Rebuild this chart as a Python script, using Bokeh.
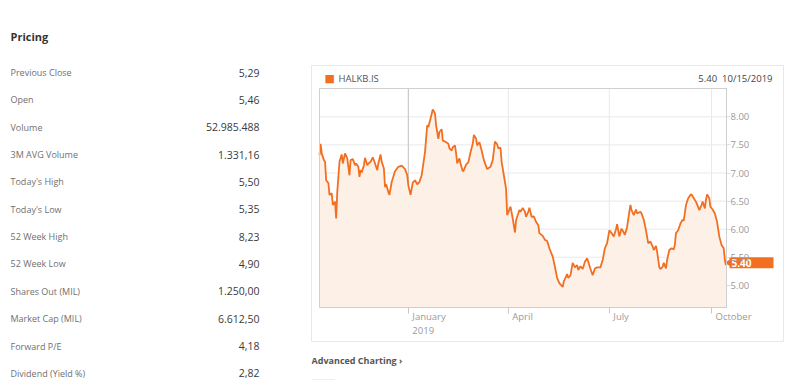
import pandas as pd
from bokeh.plotting import figure
from bokeh.models import ColumnDataSource, FixedTicker, NumeralTickFormatter
from bokeh.layouts import row, column
from bokeh.embed import file_html
from bokeh.resources import INLINE
from bokeh.core.properties import value

# ---------------- data ----------------
section_title = "Pricing"
pricing_labels = ["Previous Close", "Open", "Volume", "3M AVG Volume", "Today's High",
                  "Today's Low", "52 Week High", "52 Week Low", "Shares Out (MIL)",
                  "Market Cap (MIL)", "Forward P/E", "Dividend (Yield %)"]
pricing_values = ["5,29", "5,46", "52.985.488", "1.331,16", "5,50", "5,35", "8,23",
                  "4,90", "1.250,00", "6.612,50", "4,18", "2,82"]
ticker_symbol = "HALKB.IS"
last_price = 5.40
last_date = "10/15/2019"
footer_link = "Advanced Charting \u203a"
start_date = "2018-10-13"
end_date = "2019-10-14 12:00"
day_offsets = [0, 1, 2, 4, 5, 6, 8, 9, 11, 12, 14, 15, 16, 18, 20, 21, 23, 25, 27, 28,
               30, 32, 33, 35, 36, 37, 38, 40, 41, 43, 44, 46, 48, 50, 52, 53, 55, 56, 58, 59,
               60, 62, 63, 65, 68, 71, 74, 77, 79, 80, 82, 84, 86, 88, 90, 92, 95, 97, 98, 100,
               102, 104, 105, 107, 108, 110, 111, 114, 116, 117, 119, 120, 122, 123, 124, 126,
               127, 129, 130, 132, 134, 136, 138, 139, 141, 142, 144, 146, 148, 151, 154, 156,
               158, 160, 161, 163, 164, 166, 168, 169, 172, 174, 176, 177, 180, 181, 183, 185,
               186, 188, 189, 191, 193, 195, 197, 198, 201, 203, 205, 207, 210, 212, 214, 216,
               219, 220, 223, 224, 226, 228, 230, 232, 233, 235, 237, 239, 241, 242, 244, 246,
               248, 250, 253, 255, 257, 259, 261, 263, 265, 267, 268, 270, 272, 274, 275, 277,
               279, 280, 281, 283, 285, 286, 289, 290, 292, 294, 296, 298, 300, 301, 303, 304,
               306, 307, 309, 310, 312, 313, 315, 317, 319, 320, 321, 323, 325, 327, 328, 330,
               332, 334, 335, 337, 339, 341, 342, 344, 345, 347, 348, 349, 351, 352, 354, 356,
               358, 360, 362, 364, 365, 366]
prices = [7.32, 7.52, 7.35, 7.23, 7.20, 6.87, 6.82, 6.61, 6.64, 6.43, 6.49, 6.19, 6.66, 7.20,
          7.33, 7.17, 7.35, 7.26, 6.96, 7.23, 7.25, 7.14, 7.17, 7.11, 6.93, 7.05, 7.01, 7.14,
          7.27, 7.14, 7.17, 7.20, 7.28, 7.17, 7.05, 7.17, 7.33, 7.20, 7.08, 6.75, 6.80, 6.66,
          6.61, 6.84, 7.03, 7.11, 7.13, 7.07, 6.96, 6.78, 6.61, 6.83, 6.87, 6.80, 6.84, 6.96,
          7.37, 7.85, 7.82, 7.97, 8.13, 8.06, 7.85, 7.61, 7.73, 7.78, 7.58, 7.55, 7.52, 7.44,
          7.40, 7.46, 7.49, 7.35, 7.17, 7.26, 7.17, 7.03, 7.05, 7.15, 7.19, 7.37, 7.52, 7.68,
          7.61, 7.49, 7.55, 7.40, 7.23, 7.07, 7.11, 7.23, 7.56, 7.51, 7.44, 7.45, 7.20, 6.96,
          6.72, 6.25, 6.40, 6.19, 5.94, 6.16, 6.34, 6.31, 6.38, 6.31, 6.22, 6.31, 6.38, 6.22,
          6.23, 6.13, 6.07, 5.93, 5.88, 5.81, 5.79, 5.66, 5.51, 5.33, 5.13, 5.04, 4.97, 5.07,
          5.20, 5.13, 5.18, 5.40, 5.32, 5.36, 5.27, 5.34, 5.29, 5.42, 5.48, 5.42, 5.29, 5.18,
          5.30, 5.32, 5.32, 5.45, 5.66, 5.75, 5.98, 5.93, 5.87, 6.00, 6.09, 5.87, 6.01, 5.94,
          5.90, 6.04, 6.31, 6.43, 6.34, 6.25, 6.35, 6.28, 6.31, 6.28, 6.17, 5.98, 5.75, 5.78,
          5.69, 5.63, 5.70, 5.60, 5.32, 5.29, 5.33, 5.40, 5.30, 5.45, 5.63, 5.66, 5.64, 5.72,
          5.93, 5.98, 6.10, 6.17, 6.15, 6.43, 6.55, 6.61, 6.62, 6.55, 6.49, 6.39, 6.34, 6.43,
          6.49, 6.37, 6.52, 6.62, 6.55, 6.40, 6.35, 6.28, 6.13, 5.87, 5.72, 5.66, 5.45, 5.36]
y_ticks = [5.0, 5.5, 6.0, 6.5, 7.0, 7.5, 8.0]
y_min, y_max = 4.605, 8.505
x_tick_dates = ["2019-01-01", "2019-04-01", "2019-07-01", "2019-10-01"]
x_tick_labels = ["January\n2019", "April", "July", "October"]
year_boundary = "2019-01-01"

# ---------------- style / layout ----------------
FONT = "Open Sans"
ORANGE = "#f26f21"
FILL = "#fdf0e7"
GRID = "#e9e9e9"
BOX_W, BOX_H = 473, 277                      # chart box (page x 311, y 65)
PLOT_L, PLOT_R, PLOT_T, PLOT_B = 8, 415, 23, 242   # plot area inside the box, px

# ---------------- left table ----------------
n = len(pricing_labels)
tbl = figure(width=311, height=385, x_range=(0, 311), y_range=(385, 0),
             output_backend="svg", toolbar_location=None, min_border=0,
             outline_line_color=None)
tbl.axis.visible = False
tbl.grid.visible = False
row_y = [72 + 27.35 * i for i in range(n)]
tsrc = ColumnDataSource(dict(label=pricing_labels, val=pricing_values, y=row_y,
                             lx=[10] * n, vx=[259] * n))
tbl.text(x="lx", y="y", text="label", source=tsrc, text_font=value(FONT),
         text_font_size="9px", text_color="#707070", text_baseline="middle")
tbl.text(x="vx", y="y", text="val", source=tsrc, text_font=value(FONT),
         text_font_size="10.5px", text_color="#3a3a3a", text_baseline="middle",
         text_align="right")
tbl.text(x=[10], y=[36], text=[section_title], text_font=value(FONT),
         text_font_size="11px", text_font_style="bold", text_color="#333333",
         text_baseline="middle")

# ---------------- chart box ----------------
x_start = pd.Timestamp(start_date)
x_end = pd.Timestamp(end_date)
dates = x_start + pd.to_timedelta(day_offsets, unit="D")
tick_ts = [pd.Timestamp(d) for d in x_tick_dates]
tick_ms = [t.value / 1e6 for t in tick_ts]

span_days = (x_end - x_start) / pd.Timedelta(days=1)
px_per_day = (PLOT_R - PLOT_L) / span_days
px_per_unit = (PLOT_B - PLOT_T) / (y_max - y_min)
def px_days(px):
    return pd.Timedelta(days=px / px_per_day)

xr = (x_start - px_days(PLOT_L), x_end + px_days(BOX_W - PLOT_R))
yr = (y_min - (BOX_H - PLOT_B) / px_per_unit, y_max + PLOT_T / px_per_unit)

ch = figure(width=BOX_W, height=BOX_H, x_axis_type="datetime", x_range=xr, y_range=yr,
            y_axis_location="right", output_backend="svg", toolbar_location=None,
            min_border=0, outline_line_color="#e8e8e8", background_fill_color="white")
ch.xgrid.visible = False
ch.ygrid.visible = False

# grid lines within the plot area
ch.segment(x0=[x_start] * len(y_ticks), x1=[x_end] * len(y_ticks), y0=y_ticks, y1=y_ticks,
           line_color=GRID, line_width=1)
ch.segment(x0=tick_ts, x1=tick_ts, y0=[y_min] * len(tick_ts), y1=[y_max] * len(tick_ts),
           line_color=GRID, line_width=1)
yb = pd.Timestamp(year_boundary)
ch.segment(x0=[yb], x1=[yb], y0=[y_min], y1=[y_max], line_color="#c4c4c4", line_width=1)

# price area + line
ch.varea(x=dates, y1=y_min, y2=prices, fill_color=FILL)
ch.line(x=dates, y=prices, line_color=ORANGE, line_width=1.8)

# plot-area frame
ch.quad(left=[x_start], right=[x_end], bottom=[y_min], top=[y_max], fill_color=None,
        line_color="#d0d0d0", line_width=1)

# axes at the plot-area edges
ya = ch.yaxis[0]
ya.fixed_location = x_end.value / 1e6
ya.bounds = (y_min, y_max)
ya.ticker = FixedTicker(ticks=y_ticks)
ya.formatter = NumeralTickFormatter(format="0.00")
ya.axis_line_color = "#cfcfcf"
ya.major_tick_line_color = "#dddddd"
ya.major_tick_out = 4
ya.major_tick_in = 0
ya.minor_tick_line_color = None
ya.major_label_text_color = "#9a9a9a"
ya.major_label_text_font = FONT
ya.major_label_text_font_size = "9.5px"
ya.major_label_standoff = 0

xa = ch.xaxis[0]
xa.fixed_location = y_min
xa.bounds = (x_start, x_end)
xa.ticker = FixedTicker(ticks=tick_ms)
xa.axis_line_color = "#cfcfcf"
xa.major_tick_line_color = "#c8c8c8"
xa.major_tick_out = 6
xa.major_tick_in = 0
xa.minor_tick_line_color = None
xa.major_label_text_color = None

# month labels, left-aligned next to their ticks
lsrc = ColumnDataSource(dict(x=tick_ts, y=[y_min] * len(tick_ts), label=x_tick_labels))
ch.text(x="x", y="y", text="label", source=lsrc, x_offset=4, y_offset=2,
        text_font=value(FONT), text_font_size="9.5px", text_color="#9a9a9a",
        text_baseline="top", text_line_height=1.1)

# header
ch.text(x=[x_start], y=[y_max], text=["\u25a0"], x_offset=5, y_offset=-10,
        text_font=value("DejaVu Sans"), text_font_size="11px", text_color=ORANGE,
        text_baseline="middle")
ch.text(x=[x_start], y=[y_max], text=[ticker_symbol], x_offset=19, y_offset=-10,
        text_font=value(FONT), text_font_size="9.5px", text_color="#555555",
        text_baseline="middle")
ch.text(x=[x_end], y=[y_max], text=[f"{last_price:.2f}\u00a0\u00a0{last_date}"], x_offset=46,
        y_offset=-10, text_font=value(FONT), text_font_size="9.5px", text_color="#444444",
        text_baseline="middle", text_align="right")

# last price tag
ch.rect(x=[x_end + px_days(25)], y=[last_price], width=44, height=11,
        width_units="screen", height_units="screen", fill_color=ORANGE, line_color=None)
ch.scatter(x=[x_end + px_days(3)], y=[last_price], marker="triangle", size=9,
           angle=1.5708, fill_color=ORANGE, line_color=None)
ch.text(x=[x_end], y=[last_price], text=[f"{last_price:.2f}"], x_offset=5,
        text_font=value(FONT), text_font_size="10px", text_font_style="bold",
        text_color="white", text_baseline="middle")

# ---------------- footer ----------------
ft = figure(width=BOX_W, height=42, x_range=(0, BOX_W), y_range=(42, 0),
            output_backend="svg", toolbar_location=None, min_border=0,
            outline_line_color=None)
ft.axis.visible = False
ft.grid.visible = False
ft.text(x=[0], y=[18], text=[footer_link], text_font=value(FONT), text_font_size="9px",
        text_font_style="bold", text_color="#555555", text_baseline="middle")
ft.segment(x0=[0], y0=[37], x1=[23], y1=[37], line_color="#eeeeee", line_width=1)

right = column(ch, ft, margin=(65, 0, 0, 0), spacing=0)
layout = row(tbl, right, spacing=0)

open("out.html", "w").write(file_html(layout, INLINE))
